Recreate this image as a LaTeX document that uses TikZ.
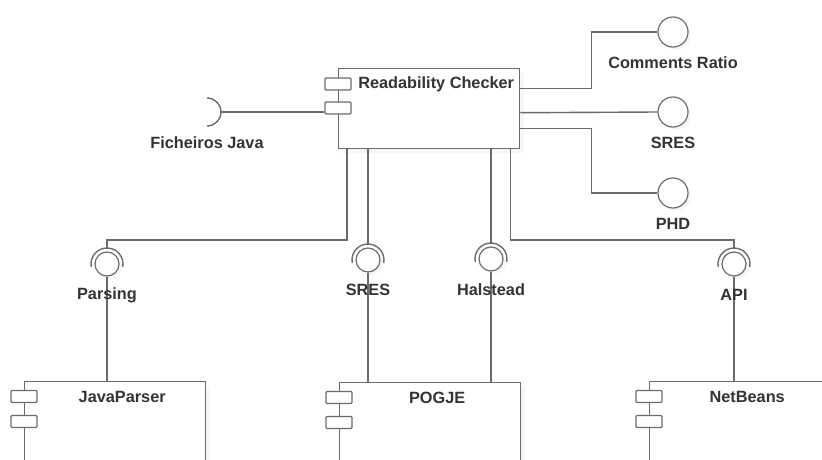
\documentclass[tikz,border=0pt]{standalone}
\usepackage{fontspec}
\setmainfont{Liberation Sans}
\usetikzlibrary{shadows}
\definecolor{linec}{HTML}{6B6B6B}
\definecolor{textc}{HTML}{333333}

\begin{document}
\begin{tikzpicture}[x=1pt,y=-1pt,
  wire/.style={draw=linec,line width=1.4pt},
  comp/.style={draw=linec,line width=1.4pt,fill=white,anchor=north west,
    minimum width=181pt,inner sep=0pt,
    drop shadow={shadow xshift=4pt,shadow yshift=-4pt,opacity=0.07}},
  port/.style={draw=linec,line width=1.2pt,fill=white,minimum width=26pt,
    minimum height=12pt,inner sep=0pt,rounded corners=1pt},
  ball/.style={circle,draw=linec,line width=1.2pt,fill=white,inner sep=0pt,
    drop shadow={shadow xshift=3pt,shadow yshift=-3pt,opacity=0.07}},
  lbl/.style={text=textc,font=\bfseries\fontsize{16.3}{19}\selectfont,inner sep=0pt}]
  \useasboundingbox (0,0) rectangle (822,460);
  \clip (0,0) rectangle (822,460);

  % main component
  \node[comp,minimum height=80pt] (checker) at (338,68) {};
  \node[port] (cport1) at ([yshift=-16pt]checker.north west) {};
  \node[port] (cport2) at ([yshift=-40pt]checker.north west) {};
  \node[lbl] at ([xshift=7pt,yshift=-16pt]checker.north) {Readability Checker};

  % required: Ficheiros Java
  \coordinate (fj) at (207,112);
  \draw[wire] (fj) ++(90:14pt) arc[start angle=90,end angle=-90,radius=14pt];
  \draw[wire] ([xshift=14pt]fj) -- (fj -| cport2.west);
  \node[lbl] at ([yshift=-31pt]fj) {Ficheiros Java};

  % provided interfaces
  \node[ball,minimum size=30pt] (cr) at (673,32) {};
  \node[ball,minimum size=30pt] (sr) at (673,112) {};
  \node[ball,minimum size=30pt] (ph) at (673,193) {};
  \node[lbl] at ([yshift=-31pt]cr.center) {Comments Ratio};
  \node[lbl] at ([yshift=-31pt]sr.center) {SRES};
  \node[lbl] at ([yshift=-31pt]ph.center) {PHD};
  \draw[wire] ([yshift=20pt]checker.east) -- ++(71,0) |- (cr.west);
  \draw[wire] ([yshift=-4pt]checker.east) -- (sr.west);
  \draw[wire] ([yshift=-20pt]checker.east) -- ++(71,0) |- (ph.west);

  % assembly balls and sockets
  \node[ball,minimum size=24pt] (pb) at (107,264) {};
  \node[ball,minimum size=24pt] (sb) at (368,260) {};
  \node[ball,minimum size=24pt] (hb) at (491,259) {};
  \node[ball,minimum size=24pt] (ab) at (734,264) {};
  \foreach \b in {pb,sb,hb,ab}{
    \coordinate (\b top) at ([yshift=16pt]\b.center);
    \draw[wire] (\b.center) ++(190:16pt) arc[start angle=190,end angle=-10,radius=16pt];
  }
  \draw[wire] ([xshift=9pt]checker.south west) |- ([yshift=8pt]pbtop) -- (pbtop);
  \draw[wire] (sbtop |- checker.south) -- (sbtop);
  \draw[wire] (hbtop |- checker.south) -- (hbtop);
  \draw[wire] ([xshift=-10pt]checker.south east) |- ([yshift=8pt]abtop) -- (abtop);

  % lower components
  \node[comp,minimum height=100pt] (javaparser) at (24,381) {};
  \node[comp,minimum height=100pt] (pogje) at (339,382) {};
  \node[comp,minimum height=100pt] (netbeans) at (649,381) {};
  \foreach \c in {javaparser,pogje,netbeans}{
    \node[port] at ([yshift=-15.5pt]\c.north west) {};
    \node[port] at ([yshift=-40.5pt]\c.north west) {};
  }
  \node[lbl] at ([xshift=7pt,yshift=-16pt]javaparser.north) {JavaParser};
  \node[lbl] at ([xshift=7pt,yshift=-16pt]pogje.north) {POGJE};
  \node[lbl] at ([xshift=7pt,yshift=-16pt]netbeans.north) {NetBeans};

  \draw[wire] (pb.south) -- (pb |- javaparser.north);
  \draw[wire] (sb.south) -- (sb |- pogje.north);
  \draw[wire] (hb.south) -- (hb |- pogje.north);
  \draw[wire] (ab.south) -- (ab |- netbeans.north);
  \node[lbl] at ([yshift=-31pt]pb.center) {Parsing};
  \node[lbl] at ([yshift=-30pt]sb.center) {SRES};
  \node[lbl] at ([yshift=-31pt]hb.center) {Halstead};
  \node[lbl] at ([yshift=-31pt]ab.center) {API};
\end{tikzpicture}
\end{document}
